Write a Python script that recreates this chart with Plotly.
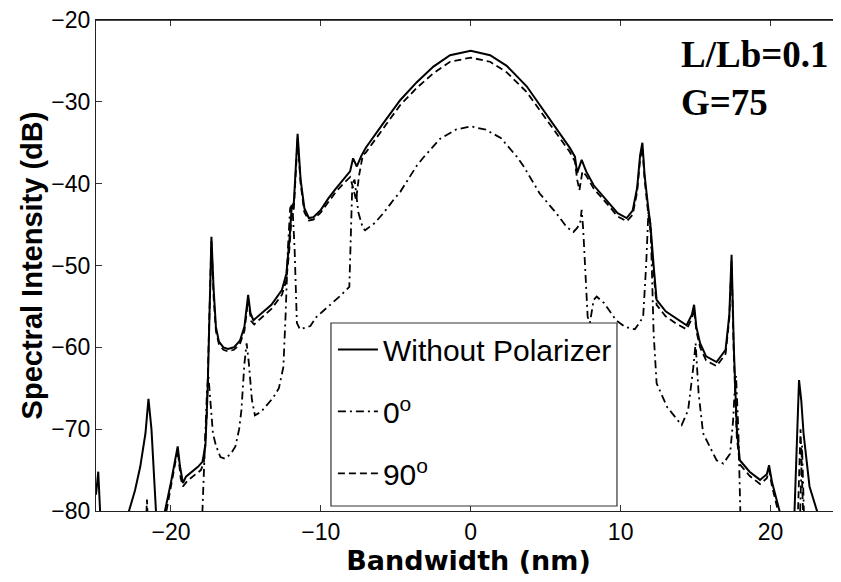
import plotly.graph_objects as go

# ---- data ----
x_nopol = [-25.0, -24.85, -24.6, -23.0, -22.8, -22.4, -22.05, -21.7, -21.5, -21.3, -21.0, -20.9,
           -20.6, -20.4, -20.0, -19.7, -19.55, -19.4, -19.2, -19.0, -18.6, -18.2, -17.9, -17.7,
           -17.55, -17.45, -17.3, -17.15, -17.0, -16.8, -16.5, -16.2, -15.8, -15.4, -15.1, -14.85,
           -14.7, -14.5, -14.0, -13.3, -12.6, -12.3, -12.1, -11.95, -11.8, -11.55, -11.35, -11.1,
           -10.8, -10.5, -10.0, -9.5, -9.0, -8.5, -8.05, -7.85, -7.6, -7.3, -7.0, -5.83, -4.71,
           -3.6, -2.49, -1.38, 0.0, 1.29, 2.4, 3.73, 4.84, 5.95, 6.6, 6.95, 7.1, 7.4, 7.7, 8.2,
           9.07, 9.8, 10.4, 10.8, 11.1, 11.3, 11.45, 11.6, 11.8, 12.0, 12.2, 12.4, 13.0, 13.7,
           14.4, 14.75, 14.9, 15.05, 15.3, 15.7, 16.4, 17.0, 17.25, 17.4, 17.55, 17.75, 17.95,
           18.6, 19.3, 19.75, 19.9, 20.1, 20.6, 20.8, 21.45, 21.6, 21.8, 21.9, 22.05, 22.2, 22.6,
           23.1, 23.3, 24.7]
y_nopol = [-78.0, -75.2, -85.0, -85.0, -80.0, -77.5, -74.6, -70.5, -66.3, -70.0, -80.0, -85.0,
           -85.0, -80.0, -76.5, -73.5, -72.1, -74.5, -76.6, -75.8, -75.2, -74.6, -74.0, -72.0,
           -65.0, -56.0, -46.5, -53.0, -57.5, -59.3, -60.0, -60.2, -60.0, -59.2, -57.5, -53.6,
           -55.8, -56.7, -55.9, -54.8, -53.0, -51.0, -47.0, -43.0, -42.3, -33.9, -39.5, -43.0,
           -44.2, -44.1, -43.2, -41.8, -40.6, -39.5, -38.5, -36.9, -37.9, -36.6, -35.6, -32.6,
           -29.8, -27.6, -25.7, -24.3, -23.75, -24.3, -25.6, -28.1, -31.0, -33.8, -35.6, -36.7,
           -38.7, -37.1, -38.5, -40.2, -42.0, -43.6, -44.2, -43.3, -40.5, -36.5, -35.0, -39.0,
           -42.3, -45.3, -50.0, -54.2, -55.6, -56.5, -57.3, -56.0, -54.8, -57.5, -59.5, -61.1,
           -61.8, -60.3, -56.0, -48.7, -60.0, -70.0, -73.8, -75.2, -76.2, -75.5, -74.4, -76.5,
           -80.0, -85.0, -85.0, -80.0, -70.0, -64.0, -66.5, -70.5, -77.0, -80.0, -85.0, -85.0]

x_deg0 = [-25.0, -18.0, -17.9, -17.75, -17.6, -17.5, -17.4, -17.2, -17.0, -16.7, -16.4, -16.0,
          -15.7, -15.45, -15.3, -15.1, -14.95, -14.8, -14.6, -14.4, -14.0, -13.7, -13.2, -12.8,
          -12.5, -12.35, -12.2, -12.05, -11.9, -11.75, -11.6, -11.4, -11.0, -10.7, -10.3, -9.5,
          -8.7, -8.1, -8.0, -7.9, -7.75, -7.5, -7.2, -7.05, -6.4, -5.83, -5.16, -4.7, -3.6,
          -3.16, -2.04, -1.0, 0.0, 1.0, 2.0, 3.07, 3.5, 4.6, 5.7, 6.4, 6.85, 7.1, 7.3, 7.4, 7.5,
          7.6, 7.8, 7.95, 8.2, 8.4, 8.9, 9.7, 10.3, 10.95, 11.5, 11.7, 11.85, 12.0, 12.1, 12.2,
          12.4, 13.1, 14.07, 14.5, 14.85, 15.0, 15.2, 15.5, 16.4, 16.85, 17.3, 17.5, 17.6, 17.7,
          17.85, 17.95, 18.05, 21.9, 22.1, 22.3, 24.7]
y_deg0 = [-85.0, -85.0, -80.0, -72.0, -65.5, -63.5, -66.0, -70.5, -72.0, -73.4, -73.6, -73.0,
          -72.1, -70.0, -67.7, -62.0, -59.5, -62.0, -66.4, -68.3, -67.9, -67.3, -66.2, -65.0,
          -62.4, -56.0, -48.0, -43.0, -42.5, -48.0, -57.0, -57.8, -57.6, -57.4, -56.3, -55.0,
          -53.7, -52.6, -46.0, -40.0, -39.5, -43.5, -45.4, -45.7, -44.8, -43.6, -42.0, -41.0,
          -37.8, -36.8, -34.5, -33.4, -33.0, -33.4, -34.4, -36.7, -37.8, -41.2, -43.6, -45.3,
          -45.9, -45.4, -44.8, -43.2, -45.5, -49.3, -56.3, -57.0, -54.2, -53.8, -54.6, -56.7,
          -57.5, -57.8, -56.3, -50.0, -43.5, -45.0, -52.0, -58.3, -64.4, -67.3, -69.5, -67.7,
          -62.4, -59.5, -65.6, -70.5, -73.8, -74.2, -73.0, -69.0, -65.5, -63.5, -70.0, -80.0,
          -85.0, -85.0, -72.0, -85.0, -85.0]

x_deg90 = [-25.0, -21.75, -21.6, -21.45, -20.5, -20.3, -20.0, -19.7, -19.55, -19.35, -19.2,
           -18.9, -18.4, -18.0, -17.8, -17.6, -17.45, -17.3, -17.15, -17.0, -16.8, -16.5, -16.2,
           -15.8, -15.4, -15.1, -14.85, -14.65, -14.45, -14.0, -13.3, -12.6, -12.3, -12.1,
           -11.95, -11.8, -11.55, -11.35, -11.1, -10.8, -10.5, -10.0, -9.5, -9.0, -8.5, -8.05,
           -7.85, -7.65, -7.45, -7.2, -7.0, -5.83, -4.71, -3.6, -2.49, -1.38, 0.0, 1.29, 2.4,
           3.73, 4.84, 5.95, 6.6, 6.95, 7.1, 7.25, 7.45, 7.7, 8.2, 9.07, 9.8, 10.4, 10.8, 11.1,
           11.3, 11.45, 11.6, 11.8, 12.0, 12.2, 12.4, 13.0, 13.7, 14.4, 14.75, 14.9, 15.05, 15.3,
           15.7, 16.4, 17.0, 17.25, 17.4, 17.55, 17.75, 17.95, 18.6, 19.3, 19.75, 19.9, 20.1,
           20.5, 20.7, 21.75, 22.0, 22.25, 24.7]
y_deg90 = [-85.0, -85.0, -78.6, -85.0, -85.0, -80.0, -77.0, -74.2, -72.5, -76.0, -77.0, -76.3,
           -75.6, -75.0, -74.0, -68.0, -57.0, -47.0, -54.0, -58.0, -59.6, -60.3, -60.5, -60.3,
           -59.6, -58.0, -54.2, -56.8, -57.2, -56.5, -55.3, -53.6, -51.8, -48.0, -44.0, -43.0,
           -34.5, -40.0, -43.5, -44.5, -44.4, -43.5, -42.2, -41.0, -40.0, -39.2, -40.5, -42.0,
           -39.0, -36.5, -36.2, -33.2, -30.4, -28.3, -26.5, -25.1, -24.6, -25.1, -26.4, -28.8,
           -31.6, -34.4, -36.1, -37.3, -39.5, -40.8, -38.5, -39.0, -40.6, -42.4, -44.0, -44.6,
           -43.8, -41.0, -37.0, -35.6, -39.5, -43.0, -46.0, -51.0, -54.8, -56.2, -57.1, -57.8,
           -56.5, -55.3, -58.0, -60.0, -61.6, -62.3, -60.8, -56.5, -49.5, -61.0, -71.0, -74.3,
           -75.7, -76.7, -76.0, -75.0, -77.0, -80.0, -85.0, -85.0, -70.0, -85.0, -85.0]

series_names = ["Without Polarizer", "0<sup>o</sup>", "90<sup>o</sup>"]
x_ticks = [-20, -10, 0, 10, 20]
y_ticks = [-80, -70, -60, -50, -40, -30, -20]

FONT = "Liberation Sans, Arial, sans-serif"

fig = go.Figure()
fig.add_trace(go.Scatter(x=x_nopol, y=y_nopol, mode="lines", name=series_names[0],
                         legendgroup="a", line=dict(color="black", width=2, dash="solid")))
fig.add_trace(go.Scatter(x=x_deg0, y=y_deg0, mode="lines", name=series_names[1],
                         legendgroup="b", line=dict(color="black", width=1.8, dash="8px,4px,2px,4px")))
fig.add_trace(go.Scatter(x=x_deg90, y=y_deg90, mode="lines", name=series_names[2],
                         legendgroup="c", line=dict(color="black", width=1.8, dash="7px,4px")))

axis_common = dict(showgrid=False, zeroline=False, ticks="inside", ticklen=6, tickwidth=1,
                   tickcolor="#333", showline=True, linecolor="#222", linewidth=1.3,
                   mirror="ticks", ticklabeloverflow="allow",
                   tickfont=dict(family=FONT, size=23, color="black"))

fig.update_xaxes(range=[-25, 24.7], tickvals=x_ticks, **axis_common,
                 title=dict(text="<b>Bandwidth (nm)</b>",
                            font=dict(family="DejaVu Sans, Liberation Sans, sans-serif", size=27, color="black"),
                            standoff=4))
fig.update_yaxes(range=[-80, -20], tickvals=y_ticks, **axis_common,
                 title=dict(text="<b>Spectral Intensity (dB)</b>", font=dict(family=FONT, size=29, color="black"),
                            standoff=0))

# top frame line of the axes box
fig.add_shape(type="line", xref="paper", yref="paper", x0=0, x1=1, y0=1, y1=1,
              line=dict(color="#111", width=1.3), layer="above")

# legend frame
fig.add_shape(type="rect", xref="paper", yref="paper", x0=0.3154, x1=0.6993, y0=0.0102, y1=0.3829,
              line=dict(color="#333", width=1.2), fillcolor="white", layer="above")

fig.add_annotation(text="<b>L/Lb=0.1<br>G=75</b>", xref="paper", yref="paper", x=0.7826, y=0.975,
                   xanchor="left", yanchor="top", align="left", showarrow=False,
                   font=dict(family="Liberation Serif, Times New Roman, serif", size=37, color="black"))

fig.update_layout(
    width=833, height=574,
    margin=dict(l=88, r=0, t=12, b=71),
    paper_bgcolor="white", plot_bgcolor="white",
    font=dict(family=FONT, color="black"),
    legend=dict(x=0.318, y=0.382, xanchor="left", yanchor="top", bgcolor="rgba(0,0,0,0)",
                borderwidth=0, font=dict(family=FONT, size=30, color="black"),
                tracegroupgap=20, itemwidth=40),
)

fig.write_html("out.html")
